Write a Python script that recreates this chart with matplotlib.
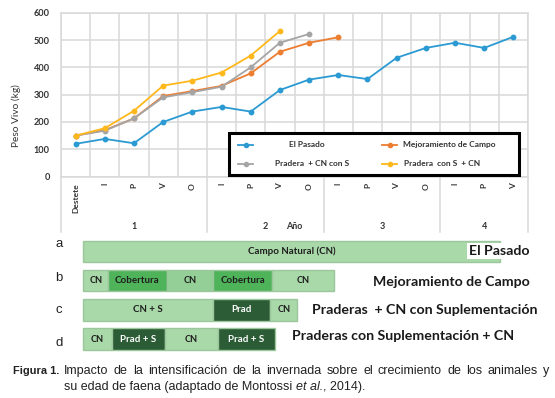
import numpy as np
import matplotlib
matplotlib.use("Agg")
import matplotlib.pyplot as plt
import matplotlib.transforms as mtransforms
from matplotlib.lines import Line2D
from matplotlib.patches import Rectangle

# ---------------- data ----------------
categories = ["Destete", "I", "P", "V", "O", "I", "P", "V", "O",
              "I", "P", "V", "O", "I", "P", "V"]
years = ["1", "2", "3", "4"]
year_bounds = [-0.5, 4.5, 8.5, 12.5, 15.5]

el_pasado = [120, 138, 122, 200, 238, 255, 238, 317, 355, 372, 357, 435, 471, 490, 471, 512]
mejoramiento = [150, 170, 213, 295, 313, 332, 378, 457, 490, 510]
pradera_cn_s = [150, 168, 213, 290, 309, 329, 400, 490, 522]
pradera_s_cn = [150, 177, 241, 333, 351, 381, 443, 533]

series_names = ["El Pasado", "Mejoramiento de Campo", "Pradera  + CN con S", "Pradera  con S  + CN"]
series_colors = ["#2b9ad3", "#ed7d31", "#a5a5a5", "#ffb81c"]

row_letters = ["a", "b", "c", "d"]
row_titles = ["El Pasado", "Mejoramiento de Campo",
              "Praderas  + CN con Suplementación", "Praderas con Suplementación + CN"]
row_a_months = [45.0]
row_a_labels = ["Campo Natural (CN)"]
row_b_months = [2.7, 6.3, 5.0, 6.4, 6.7]
row_b_labels = ["CN", "Cobertura", "CN", "Cobertura", "CN"]
row_c_months = [14.0, 6.2, 2.9]
row_c_labels = ["CN + S", "Prad", "CN"]
row_d_months = [3.1, 5.7, 5.7, 6.2]
row_d_labels = ["CN", "Prad + S", "CN", "Prad + S"]

caption_head = "Figura 1."
caption_line1 = "Impacto de la intensificación de la invernada sobre el crecimiento de los animales y"
caption_line2 = ["su edad de faena (adaptado de Montossi ", "et al.", ", 2014)."]

# ---------------- style ----------------
W, H = 555, 398
FONT = "Lato"
GRID = "#d9d9d9"
TXT = "#333333"
LIGHT, MED, DARK = "#a9d8a9", "#4fb35a", "#2b5c36"
seg_style = {"CN": (LIGHT, "#1e1e1e"), "CN + S": (LIGHT, "#1e1e1e"),
             "Campo Natural (CN)": (LIGHT, "#1e1e1e"),
             "Cobertura": (MED, "#1e1e1e"),
             "Prad": (DARK, "white"), "Prad + S": (DARK, "white")}

fig = plt.figure(figsize=(W / 100, H / 100), dpi=100)
fig.patch.set_facecolor("white")


def fx(px):
    return px / W


def fy(py):
    return 1 - py / H


# ---------------- line chart ----------------
ax = fig.add_axes([fx(61), fy(176.6), (528 - 61) / W, (176.6 - 12.7) / H])
x = np.arange(len(categories))
for vals, col in zip([el_pasado, mejoramiento, pradera_cn_s, pradera_s_cn], series_colors):
    ax.plot(x[:len(vals)], vals, color=col, lw=1.3, marker="o", ms=3.2, zorder=3)

ax.set_xlim(-0.5, len(categories) - 0.5)
ax.set_ylim(0, 600)
ax.set_yticks(np.arange(0, 601, 100))
ax.set_xticks(x)
ax.set_xticklabels(categories, rotation=90, va="top", ha="center")
ax.set_xticks(np.arange(-0.5, len(categories), 1), minor=True)
ax.grid(which="minor", axis="x", color=GRID, lw=1.1)
ax.grid(which="major", axis="y", color=GRID, lw=1.1)
ax.tick_params(which="both", length=0)
ax.tick_params(axis="x", pad=4.6)
ax.tick_params(axis="y", pad=8)
for lab in ax.get_xticklabels() + ax.get_yticklabels():
    lab.set_family(FONT)
    lab.set_fontweight("bold")
    lab.set_color(TXT)
for lab in ax.get_xticklabels():
    lab.set_fontsize(6)
for lab in ax.get_yticklabels():
    lab.set_fontsize(6.6)
for s in ax.spines.values():
    s.set_color(GRID)
    s.set_linewidth(1.1)
ax.set_ylabel("Peso Vivo (kg)", family=FONT, fontsize=7.3, color=TXT)
ax.yaxis.set_label_coords(-0.0863, 0.372)

blend = mtransforms.blended_transform_factory(ax.transData, ax.transAxes)
for b in year_bounds:
    ax.plot([b, b], [0, -0.34], transform=blend, color=GRID, lw=1.1, clip_on=False)
for i, yl in enumerate(years):
    cx = (year_bounds[i] + year_bounds[i + 1]) / 2
    ax.text(cx, -0.3075, yl, transform=blend, ha="center", va="center",
            family=FONT, fontweight="bold", fontsize=6.5, color=TXT)
ax.text(7.48, -0.3075, "Año", transform=blend, ha="center", va="center",
        family=FONT, fontweight="bold", fontsize=6.5, color=TXT)

# ---------------- overlay (legend, caption) ----------------
lay = fig.add_axes([0, 0, 1, 1], zorder=5)
lay.set_xlim(0, W)
lay.set_ylim(H, 0)
lay.axis("off")
lay.patch.set_alpha(0)

lay.add_patch(Rectangle((229, 133), 290, 41.5, facecolor="white", edgecolor="black", lw=2.2))
leg_pos = [(238, 307, "center", 144.7), (382, 403, "left", 144.7),
           (238, 312, "center", 164), (382, 404, "left", 164)]
for (hx, tx, ha, yy), name, col in zip(leg_pos, series_names, series_colors):
    lay.add_line(Line2D([hx, hx + 15], [yy, yy], color=col, lw=1.3))
    lay.add_line(Line2D([hx + 7.5], [yy], color=col, marker="o", ms=3))
    lay.text(tx, yy, name, ha=ha, va="center", family=FONT, fontweight="bold",
             fontsize=6.0, color=TXT)

cap_font = "Liberation Sans"
CAP_FS = 9.0
CAP_COL = "#222222"
lay.text(12.7, 374, caption_head, family=cap_font, fontweight="bold", fontsize=7.9,
         color=CAP_COL, va="baseline")

# justified first line
renderer = fig.canvas.get_renderer()
words = caption_line1.split(" ")
x0, x1 = 64.3, 549.0
wtexts = [lay.text(0, 374, w, family=cap_font, fontsize=CAP_FS, color=CAP_COL, va="baseline")
          for w in words]
inv = lay.transData.inverted()
widths = []
for t in wtexts:
    bb = t.get_window_extent(renderer=renderer)
    (a0, _), (a1, _) = inv.transform([[bb.x0, bb.y0], [bb.x1, bb.y1]])
    widths.append(a1 - a0)
gap = (x1 - x0 - sum(widths)) / (len(words) - 1)
cur = x0
for t, w in zip(wtexts, widths):
    t.set_x(cur)
    cur += w + gap

t1 = lay.text(64.3, 390, caption_line2[0], family=cap_font, fontsize=CAP_FS,
              color=CAP_COL, va="baseline")
t2 = lay.annotate(caption_line2[1], xy=(1, 0), xycoords=t1, va="bottom", ha="left",
                  family=cap_font, fontsize=CAP_FS, style="italic", color=CAP_COL)
lay.annotate(caption_line2[2], xy=(1, 0), xycoords=t2, va="bottom", ha="left",
             family=cap_font, fontsize=CAP_FS, color=CAP_COL)

# ---------------- bars (feeding systems) ----------------
px_per_month = (500 - 83.3) / 45.0
bx = fig.add_axes([0, fy(356), 1, (356 - 236) / H], zorder=4)
bx.set_xlim(-83.3 / px_per_month, (W - 83.3) / px_per_month)
bx.set_ylim(3.58, -0.524)
bx.axis("off")
bx.patch.set_alpha(0)

rows = [(row_a_months, row_a_labels), (row_b_months, row_b_labels),
        (row_c_months, row_c_labels), (row_d_months, row_d_labels)]
letter_dy = [-0.25, -0.09, 0.0, 0.13]
for r, (months, labels) in enumerate(rows):
    lefts = np.concatenate([[0], np.cumsum(months)[:-1]])
    for lf, w, lab in zip(lefts, months, labels):
        fc, tc = seg_style[lab]
        if r == 1 and lab == "CN" and 0 < lf < 15:
            fc = "#93cf96"
        bx.barh(r, w, left=lf, height=0.74, color=fc, edgecolor="#9cc79c", lw=1.0)
        bx.text(lf + w / 2, r, lab, ha="center", va="center", family=FONT,
                fontweight="bold", fontsize=7.0 if len(lab) > 3 else 6.6, color=tc)
    bx.text((59 - 83.3) / px_per_month, r + letter_dy[r], row_letters[r], ha="center",
            va="center", family="Liberation Sans", fontsize=9.5, color="#222222")

title_pos = [(529.3, "right"), (530, "right"), (312.3, "left"), (291.7, "left")]
title_dy = [0.0, 0.05, 0.02, -0.1]
for r, ((tx, ha), t) in enumerate(zip(title_pos, row_titles)):
    kw = {}
    if r == 0:
        kw["bbox"] = dict(facecolor="white", edgecolor="none", pad=1.5)
    bx.text((tx - 83.3) / px_per_month, r + title_dy[r], t, ha=ha, va="center", family=FONT,
            fontweight="bold", fontsize=10.2, color="#1a1a1a", **kw)

fig.savefig("out.png", dpi=100, facecolor="white")
